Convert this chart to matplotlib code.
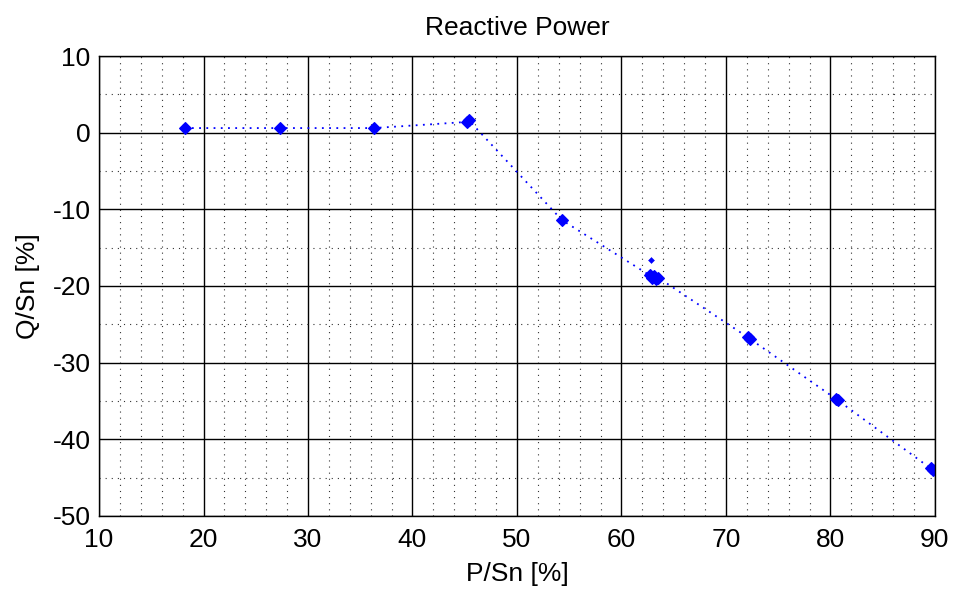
import numpy as np
import matplotlib
matplotlib.use('Agg')
import matplotlib.pyplot as plt
import matplotlib.ticker as ticker

plt.rcParams['font.family'] = ['Liberation Sans', 'DejaVu Sans']
plt.rcParams['axes.unicode_minus'] = False

# measured points, in the order the line joins them
p_sn = [18.2, 27.3, 36.3, 45.2, 45.4, 54.3, 62.7, 62.9, 63.1, 63.3, 63.5,
        72.1, 72.3, 80.5, 80.7, 89.6, 89.8]
q_sn = [0.6, 0.6, 0.6, 1.4, 1.6, -11.4, -18.6, -19.0, -18.7, -19.1, -18.9,
        -26.7, -26.9, -34.7, -34.9, -43.8, -44.0]

# stray sample, not on the line
p_odd = [62.8]
q_odd = [-16.6]

fig = plt.figure(figsize=(9.54, 5.92), dpi=100)
fig.set_facecolor('w')
ax = fig.add_axes([0.1038, 0.1284, 0.8762, 0.777])

ax.plot(p_sn, q_sn, color='#0000ff', lw=1.3, ls=(0, (1, 3)), marker='D',
        ms=6, markeredgewidth=0.8)
ax.plot(p_odd, q_odd, 'D', color='#0000ff', ms=3, markeredgewidth=0.4)

ax.set_xlim(10, 90)
ax.set_ylim(-50, 10)
ax.xaxis.set_major_locator(ticker.MultipleLocator(10))
ax.xaxis.set_minor_locator(ticker.MultipleLocator(2))
ax.yaxis.set_major_locator(ticker.MultipleLocator(10))
ax.yaxis.set_minor_locator(ticker.MultipleLocator(5))

ax.grid(which='major', color='k', lw=1.0, ls='-')
ax.grid(which='minor', color='#333333', lw=0.8, ls=(0, (1, 4.5)))
ax.set_axisbelow(True)
ax.tick_params(which='both', length=0, labelsize=19)
ax.tick_params(axis='x', pad=9)
ax.tick_params(axis='y', pad=6)

for s in ax.spines.values():
    s.set_color('k')
    s.set_linewidth(1.0)

ax.set_title('Reactive Power', fontsize=19, pad=15)
ax.set_xlabel('P/Sn [%]', fontsize=19, labelpad=7)
ax.set_ylabel('Q/Sn [%]', fontsize=19, labelpad=9)

plt.savefig('out.png', dpi=100)
